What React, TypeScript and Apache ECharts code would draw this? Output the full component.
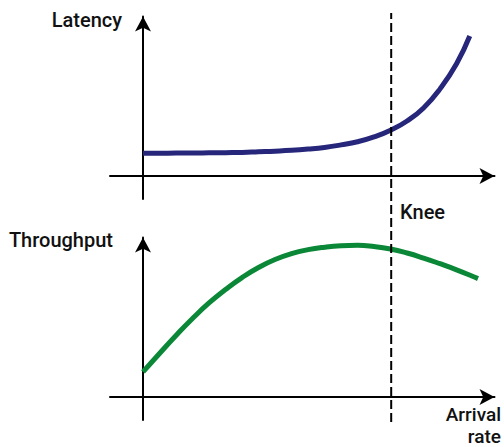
import React, { useEffect, useRef } from "react";
import * as echarts from "echarts";

// Arrival rate (arbitrary units), knee position
const kneeRate = 7.52;

// Latency curve (arrival rate, latency)
const latencyRate = [0, 0.5, 1, 1.5, 2, 2.5, 3, 3.5, 4, 4.5, 5, 5.5, 6, 6.5, 7, 7.5, 8, 8.5, 9, 9.5, 9.9];
const latencyValue = [1.08, 1.08, 1.09, 1.09, 1.1, 1.11, 1.12, 1.15, 1.18, 1.22, 1.28, 1.36, 1.48, 1.63, 1.86, 2.18, 2.62, 3.24, 4.15, 5.35, 6.67];

// Throughput curve (arrival rate, throughput)
const throughputRate = [0, 0.5, 1, 1.5, 2, 2.5, 3, 3.5, 4, 4.5, 5, 5.5, 6, 6.5, 7, 7.5, 8, 8.5, 9, 9.5, 10, 10.15];
const throughputValue = [1.19, 2.07, 2.93, 3.74, 4.48, 5.12, 5.69, 6.17, 6.55, 6.83, 7.02, 7.14, 7.21, 7.23, 7.17, 7.05, 6.86, 6.62, 6.35, 6.06, 5.74, 5.64];

const labels = {
  latency: "Latency",
  throughput: "Throughput",
  knee: "Knee",
  arrival: "Arrival",
  rate: "rate",
};

const FONT = "Roboto, 'Noto Sans', sans-serif";

export default function App() {
  const ref = useRef<HTMLDivElement>(null);

  useEffect(() => {
    if (!ref.current) return;
    const chart = echarts.init(ref.current, undefined, { renderer: "svg" });

    const axisLine = {
      show: true,
      onZero: true,
      symbol: ["none", "arrow"],
      symbolSize: [12, 15],
      lineStyle: { color: "#000", width: 2 },
    };
    const hidden = {
      axisTick: { show: false },
      axisLabel: { show: false },
      splitLine: { show: false },
    };

    const textEl = (t: string, x: number, y: number, align: string, size = 20) => ({
      type: "text",
      x,
      y,
      style: {
        text: t,
        fill: "#111",
        font: `500 ${size}px ${FONT}`,
        lineHeight: size,
        textAlign: align,
        textVerticalAlign: "middle",
      },
    });

    chart.setOption({
      animation: false,
      grid: [
        { left: 110, right: 9.5, top: 16.5, bottom: 248 },
        { left: 110, right: 9.5, top: 237.5, bottom: 27 },
        { left: 110, right: 9.5, top: 13, bottom: 25 },
      ],
      xAxis: [
        { type: "value", gridIndex: 0, min: -1, max: 10.65, axisLine, ...hidden },
        { type: "value", gridIndex: 1, min: -1, max: 10.65, axisLine, ...hidden },
        { type: "value", gridIndex: 2, min: -1, max: 10.65, show: false },
      ],
      yAxis: [
        { type: "value", gridIndex: 0, min: -1.1, max: 7.6, axisLine, ...hidden },
        { type: "value", gridIndex: 1, min: -1.1, max: 7.6, axisLine, ...hidden },
        { type: "value", gridIndex: 2, min: 0, max: 1, show: false },
      ],
      series: [
        {
          type: "line",
          xAxisIndex: 0,
          yAxisIndex: 0,
          data: latencyRate.map((r, i) => [r, latencyValue[i]]),
          smooth: 0.5,
          showSymbol: false,
          lineStyle: { color: "#26267a", width: 5 },
          z: 3,
        },
        {
          type: "line",
          xAxisIndex: 1,
          yAxisIndex: 1,
          data: throughputRate.map((r, i) => [r, throughputValue[i]]),
          smooth: 0.5,
          showSymbol: false,
          lineStyle: { color: "#0a8737", width: 5 },
          z: 3,
        },
        {
          type: "line",
          xAxisIndex: 2,
          yAxisIndex: 2,
          data: [
            [kneeRate, 0],
            [kneeRate, 1],
          ],
          showSymbol: false,
          lineStyle: { color: "#000", width: 2, type: [9, 4] },
          z: 4,
        },
      ],
      graphic: [
        textEl(labels.latency, 122, 20, "right"),
        textEl(labels.throughput, 113, 240, "right"),
        textEl(labels.knee, 400, 212, "left"),
        textEl(labels.arrival, 501, 414, "right", 19),
        textEl(labels.rate, 501, 436.5, "right", 19),
      ],
    });

    return () => chart.dispose();
  }, []);

  return (
    <div
      ref={ref}
      style={{ position: "fixed", left: 0, top: 0, width: 504, height: 447, background: "#fff" }}
    />
  );
}
